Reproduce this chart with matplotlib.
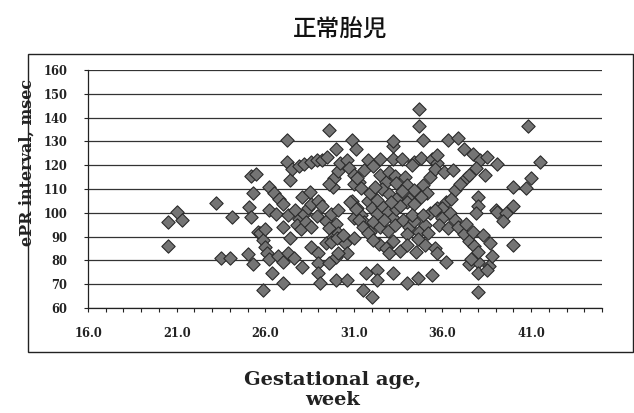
import matplotlib
matplotlib.use("Agg")
import matplotlib.pyplot as plt
from matplotlib.patches import Rectangle
from matplotlib.ticker import MultipleLocator, FixedLocator

title_text = "正常胎児"
x_label = "Gestational age,\nweek"
y_label = "ePR interval, msec"
x_ticks = [16.0, 21.0, 26.0, 31.0, 36.0, 41.0]
y_ticks = [60, 70, 80, 90, 100, 110, 120, 130, 140, 150, 160]

gest_age = [
    20.5, 21.0, 21.3, 20.5, 23.2, 24.1, 23.5, 24.0, 25.0, 25.3, 25.2, 25.5, 25.3, 25.1, 25.2, 25.6,
    25.9, 25.7, 25.9, 26.0, 26.1, 26.2, 26.0, 26.4, 26.2, 26.5, 26.8, 27.0, 26.2, 26.6, 27.2, 27.2,
    27.4, 27.0, 27.4, 26.7, 27.0, 27.3, 27.6, 28.1, 27.0,
    27.5, 27.9, 28.2, 28.6, 28.9, 29.2, 29.5, 29.6, 30.0, 27.3, 27.7, 27.9, 28.2, 28.4, 27.8, 28.0,
    28.3, 28.6, 28.9, 28.6, 28.1, 28.5, 29.0, 29.2, 29.4, 29.7, 30.0, 30.1, 29.6,
    28.6, 29.0, 29.4, 29.8, 30.1, 30.5, 29.7, 30.05, 30.4, 31.0,
    29.0, 29.0, 29.1, 30.0, 30.6, 29.6, 30.1, 30.0, 30.6,
    29.8, 29.9, 30.1, 30.2, 30.6, 30.9, 31.1, 30.7, 31.0, 31.3, 31.6, 31.8, 29.6,
    30.9, 31.2, 31.4, 31.6, 31.0, 31.8, 30.8, 31.1, 31.3, 31.5, 31.0, 31.2, 31.4,
    31.5, 32.0, 31.7, 32.3, 32.3, 33.2,
    32.1, 32.5, 33.2, 33.7, 34.4, 34.8, 35.4, 35.7, 33.2, 33.2, 34.7, 34.7, 34.9,
    32.5, 32.8, 32.6, 33.0, 33.3, 33.4, 34.9, 35.1, 34.8, 35.3, 34.1, 33.9, 34.0, 34.4,
    32.0, 32.3, 32.6, 32.9, 33.2, 32.1, 32.5, 32.9, 33.3, 31.9, 33.4, 32.7, 31.9, 32.3,
    33.8, 34.1, 34.4, 34.7, 35.0, 35.2, 34.0, 35.3, 35.7, 34.0, 34.4,
    32.4, 32.8, 33.2, 33.6, 34.0, 34.5, 33.0, 31.8, 32.1, 34.0, 34.6, 35.4,
    34.3, 34.9, 34.6, 35.0, 33.0, 33.4, 33.7, 33.6, 33.1, 32.2,
    34.3, 35.7, 36.3, 36.9, 37.2, 37.7, 38.1, 38.5, 39.1, 38.4, 35.6, 36.1, 36.6,
    36.2, 36.7, 37.3, 37.9, 36.5, 37.0, 37.5, 36.0, 38.0, 38.0, 37.9, 39.0,
    35.6, 36.0, 36.4, 35.8, 36.3, 36.7, 36.9, 37.2, 37.5, 37.8, 37.3, 37.7,
    35.6, 36.2, 35.7, 37.5, 38.0, 38.6, 38.0, 38.3, 38.7, 38.8, 37.6, 38.0, 38.5, 38.0,
    39.1, 39.6, 40.0, 39.4, 40.8, 41.5, 41.0, 40.0, 40.7, 40.0,
]
pr_interval = [
    96.3, 100.2, 97.0, 86.2, 104.2, 98.4, 81.1, 81.1, 82.7, 78.5, 115.5, 116.3, 108.2, 102.6, 98.4, 92.1,
    67.6, 91.4, 88.5, 85.5, 83.0, 80.5, 93.0, 74.6, 111.0, 108.5, 106.0, 103.5, 101.2, 99.5, 130.6, 121.5,
    113.8, 94.2, 89.4, 82.0, 79.5, 83.0, 81.0, 77.2, 70.4,
    118.5, 119.5, 120.5, 121.5, 122.2, 122.0, 123.6, 134.8, 127.0, 99.0, 101.0, 97.5, 99.5, 102.0, 95.0, 93.0,
    96.0, 94.0, 98.5, 103.5, 106.5, 108.9, 104.8, 103.0, 96.5, 99.5, 95.5, 101.0, 93.5,
    85.8, 83.1, 87.3, 90.0, 91.5, 87.3, 87.9, 89.3, 90.7, 89.3,
    78.8, 74.6, 70.4, 81.6, 83.0, 78.8, 83.0, 71.8, 71.8,
    111.0, 114.5, 117.5, 121.0, 122.0, 130.6, 127.0, 119.0, 116.0, 113.0, 118.0, 122.0, 112.0,
    105.0, 102.0, 99.0, 96.0, 98.0, 105.0, 104.5, 101.5, 97.0, 94.0, 112.0, 114.5, 110.5,
    67.6, 64.7, 74.6, 76.0, 71.8, 74.6,
    119.5, 122.5, 122.8, 122.5, 121.5, 123.0, 122.8, 121.0, 128.0, 130.0, 143.5, 136.5, 130.6,
    116.0, 113.0, 110.0, 117.0, 115.5, 112.5, 111.5, 108.5, 106.5, 115.0, 106.0, 115.2, 111.7, 109.6,
    102.0, 99.5, 103.0, 100.5, 98.0, 96.0, 94.0, 92.5, 95.0, 92.0, 101.5, 97.0, 108.2, 105.4,
    97.0, 94.0, 96.5, 92.0, 95.0, 91.5, 91.0, 100.0, 102.0, 104.5, 103.5,
    87.0, 85.0, 88.0, 84.0, 86.5, 83.5, 83.0, 91.4, 88.6, 70.5, 72.5, 74.0,
    99.0, 99.0, 89.0, 86.5, 108.0, 106.0, 109.0, 103.0, 104.5, 111.0,
    120.0, 124.3, 130.6, 131.5, 127.0, 124.5, 122.0, 123.5, 120.5, 116.0, 118.5, 117.0, 118.0,
    104.7, 109.6, 114.6, 118.8, 106.0, 112.0, 116.0, 102.0, 106.5, 103.0, 100.0, 101.0,
    101.0, 98.0, 100.0, 95.0, 93.5, 97.0, 94.0, 91.0, 88.0, 86.0, 95.5, 92.0,
    85.0, 79.5, 83.0, 78.5, 79.5, 77.5, 83.5, 90.5, 87.5, 82.0, 80.5, 74.6, 76.0, 66.7,
    100.5, 99.8, 102.8, 96.5, 136.5, 121.5, 114.6, 110.8, 110.4, 86.5,
]

W, H = 634, 413
fig = plt.figure(figsize=(W / 100, H / 100), dpi=100)
fig.patch.set_facecolor("white")

ax = fig.add_axes([88 / W, 1 - 308 / H, (602 - 88) / W, (308 - 70) / H])
ax.scatter(gest_age, pr_interval, marker="D", s=46, facecolor="#747474",
           edgecolor="#2a2a2a", linewidths=0.8, zorder=3)

ax.set_xlim(16, 45)
ax.set_ylim(60, 160)
ax.xaxis.set_major_locator(FixedLocator(x_ticks))
ax.xaxis.set_minor_locator(MultipleLocator(1))
ax.yaxis.set_major_locator(FixedLocator(y_ticks))
ax.set_xticklabels([f"{t:.1f}" for t in x_ticks])
ax.set_yticklabels([str(t) for t in y_ticks])

for spine in ["top", "right"]:
    ax.spines[spine].set_visible(False)
for spine in ["left", "bottom"]:
    ax.spines[spine].set_color("#222222")
    ax.spines[spine].set_linewidth(0.9)

ax.grid(axis="y", color="#333333", linewidth=0.9, linestyle="-")
ax.set_axisbelow(True)
ax.tick_params(axis="x", which="both", direction="out", length=3, width=0.8,
               color="#222222", pad=11)
ax.tick_params(axis="y", which="major", direction="out", length=3, width=0.8,
               color="#222222", pad=12)
for lab in ax.get_xticklabels() + ax.get_yticklabels():
    lab.set_fontfamily("DejaVu Serif")
    lab.set_fontweight("bold")
    lab.set_fontsize(8.3)
    lab.set_color("#222222")

fig.text(340 / W, 1 - 30 / H, title_text, family=["Noto Sans CJK JP", "DejaVu Sans"],
         fontsize=17, fontweight="medium", ha="center", va="center", color="#111111")
fig.text(27 / W, 1 - 162 / H, y_label, family="DejaVu Serif", fontweight="bold",
         fontsize=11.5, rotation=90, ha="center", va="center", color="#222222")
fig.text(333 / W, 1 - 390 / H, x_label, family="DejaVu Serif", fontweight="bold",
         fontsize=14, ha="center", va="center", linespacing=1.2, color="#222222")

fig.patches.append(Rectangle((28 / W, 1 - 352 / H), (633 - 28) / W, (352 - 54) / H,
                             transform=fig.transFigure, fill=False,
                             edgecolor="#222222", linewidth=1.0))

fig.savefig("out.png", dpi=100)
